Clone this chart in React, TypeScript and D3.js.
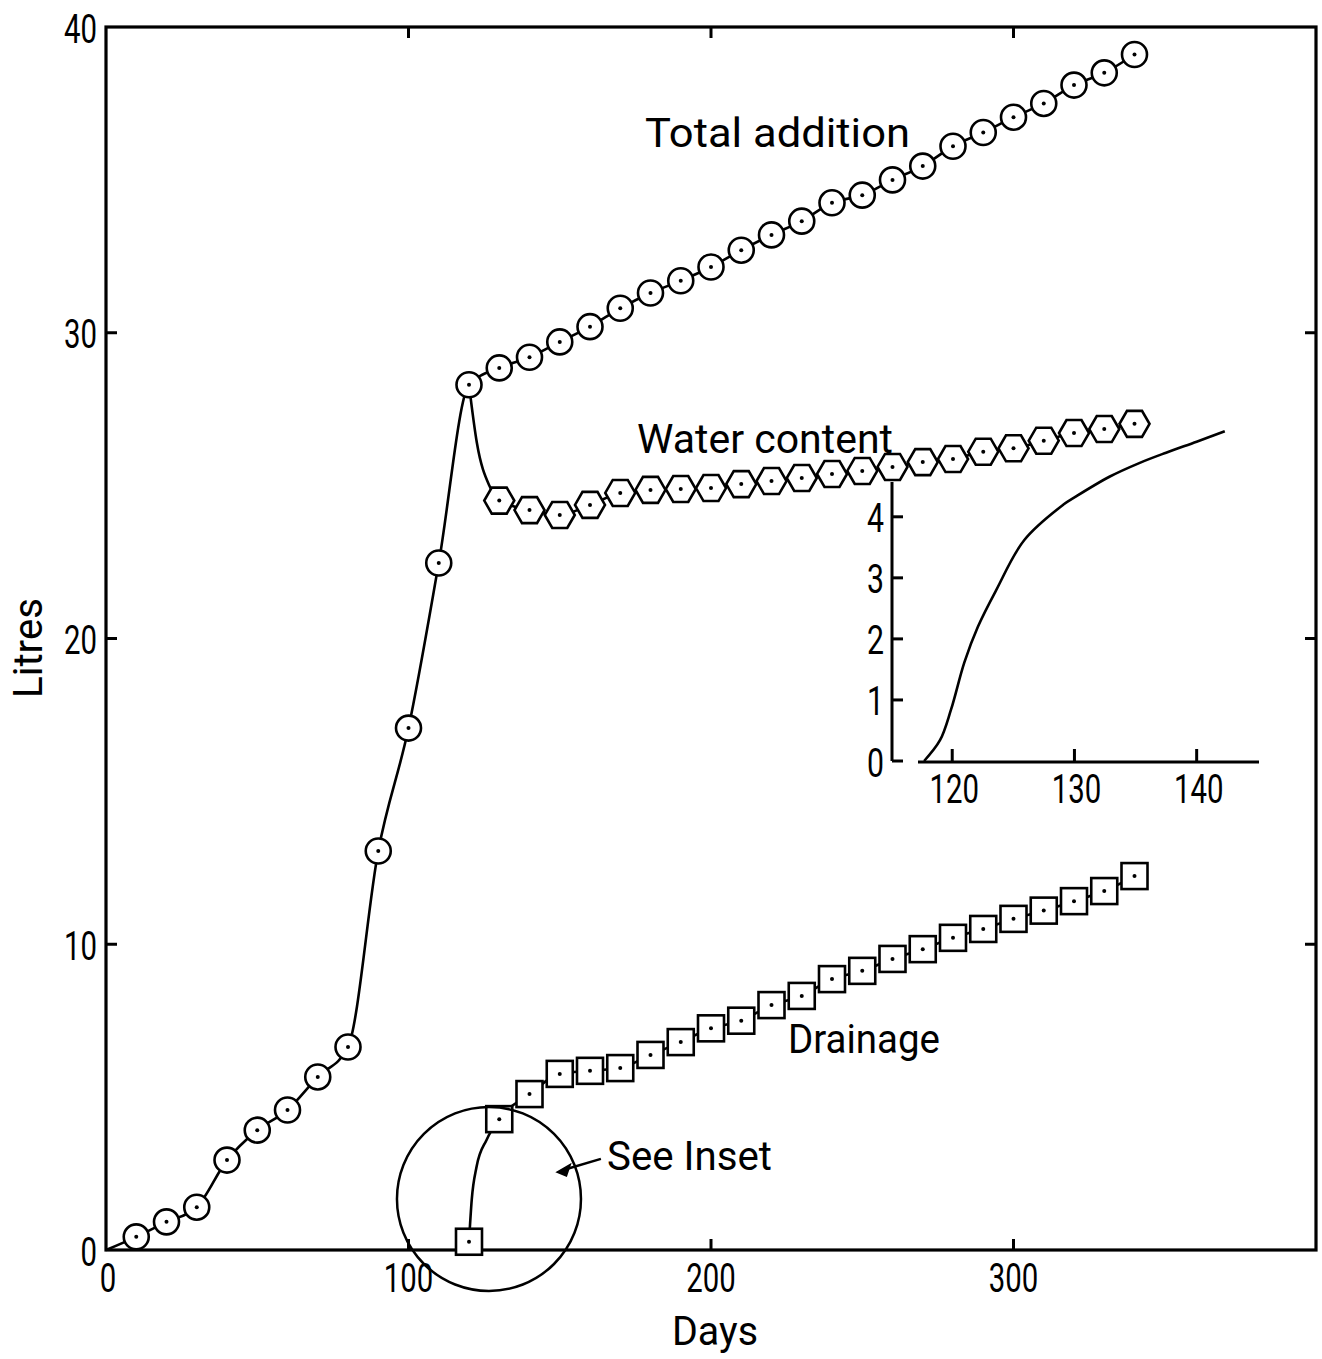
import React from 'react'
import * as d3 from 'd3'

// total addition (circles), litres vs days
const additionDays = [0, 10, 20, 30, 40, 50, 60, 70, 80, 90, 100, 110, 120, 130, 140, 150, 160, 170, 180, 190, 200, 210, 220, 230, 240, 250, 260, 270, 280, 290, 300, 310, 320, 330, 340]
const additionLitres = [0, 0.43, 0.92, 1.4, 2.94, 3.92, 4.58, 5.66, 6.64, 13.05, 17.07, 22.47, 28.3, 28.85, 29.2, 29.7, 30.2, 30.8, 31.3, 31.7, 32.15, 32.7, 33.2, 33.65, 34.25, 34.5, 35.0, 35.45, 36.1, 36.55, 37.05, 37.5, 38.1, 38.5, 39.1]

// water content (hexagons every 10 days), starts at the peak of total addition;
const waterDays = [120, 122.6, 126.9, 130, 140, 150, 160, 170, 180, 190, 200, 210, 220, 230, 240, 250, 260, 270, 280, 290, 300, 310, 320, 330, 340]
const waterLitres = [28.3, 26.4, 24.96, 24.51, 24.2, 24.04, 24.37, 24.76, 24.86, 24.89, 24.92, 25.05, 25.15, 25.25, 25.38, 25.48, 25.61, 25.77, 25.87, 26.11, 26.22, 26.47, 26.72, 26.85, 27.02]

// drainage (squares every 10 days), off-grid points
const drainDays = [120, 120.9, 122.5, 125.8, 130, 140, 150, 160, 170, 180, 190, 200, 210, 220, 230, 240, 250, 260, 270, 280, 290, 300, 310, 320, 330, 340]
const drainLitres = [0.27, 1.64, 2.72, 3.6, 4.28, 5.1, 5.76, 5.86, 5.95, 6.38, 6.8, 7.25, 7.5, 8.01, 8.31, 8.86, 9.13, 9.52, 9.84, 10.21, 10.5, 10.83, 11.1, 11.41, 11.74, 12.23]

// inset: early drainage
const insetDays = [117.7, 119, 119.9, 121, 122.1, 123.6, 125.9, 129.1, 130.1, 132.9, 135.3, 137.5, 140, 142.3]
const insetLitres = [0, 0.34, 0.84, 1.62, 2.2, 2.8, 3.62, 4.2, 4.33, 4.66, 4.88, 5.05, 5.23, 5.4]

const xTicks = [0, 100, 200, 300]
const yTicks = [0, 10, 20, 30, 40]
const insetXTicks = [120, 130, 140]
const insetYTicks = [0, 1, 2, 3, 4]

const FONT = 'Roboto, "DejaVu Sans", sans-serif'

const Label = ({ x, y, text, anchor = 'start', width, rotate = 0 }: any) => (
    <text
        x={x}
        y={y}
        textAnchor={anchor}
        fontFamily={FONT}
        fontWeight={400}
        fontSize={41}
        fill="#000"
        textLength={width}
        lengthAdjust="spacingAndGlyphs"
        transform={rotate ? `rotate(${rotate}, ${x}, ${y})` : undefined}
    >
        {text}
    </text>
)

const hexPath = (R: number, h: number) =>
    `M${R},0L${R / 2},${h}L${-R / 2},${h}L${-R},0L${-R / 2},${-h}L${R / 2},${-h}Z`

const onGrid = (d: [number, number]) => d[0] % 10 === 0

const App = () => {
    const width = 1322
    const height = 1359

    const x = d3.scaleLinear().domain([0, 400]).range([106, 1316])
    const y = d3.scaleLinear().domain([0, 40]).range([1250, 27])

    const xi = d3.scaleLinear().domain([117.2, 145.1]).range([918, 1259])
    const yi = d3.scaleLinear().domain([0, 4.57]).range([761, 482])
    const insetAxisX = 892

    const line = d3.line<[number, number]>()
        .x(d => x(d[0]))
        .y(d => y(d[1]))
        .curve(d3.curveMonotoneX)
    const insetLine = d3.line<[number, number]>()
        .x(d => xi(d[0]))
        .y(d => yi(d[1]))
        .curve(d3.curveCatmullRom)

    const addition = additionDays.map((d, i) => [d, additionLitres[i]] as [number, number])
    const water = waterDays.map((d, i) => [d, waterLitres[i]] as [number, number])
    const drain = drainDays.map((d, i) => [d, drainLitres[i]] as [number, number])
    const inset = insetDays.map((d, i) => [d, insetLitres[i]] as [number, number])

    const [x0, x1] = x.range()
    const [y0, y1] = y.range()
    const tick = 11
    const numW = (s: string) => s.length * 16.5

    return (
        <svg width={width} height={height} style={{ position: 'absolute', left: 0, top: 0, background: '#fff' }}>
            {/* frame */}
            <rect x={x0} y={y1} width={x1 - x0} height={y0 - y1} fill="none" stroke="#000" strokeWidth={3.2} />
            {xTicks.filter(t => t > 0).map(t => (
                <g key={'xt' + t} stroke="#000" strokeWidth={3}>
                    <line x1={x(t)} x2={x(t)} y1={y0} y2={y0 - tick} />
                    <line x1={x(t)} x2={x(t)} y1={y1} y2={y1 + tick} />
                </g>
            ))}
            {yTicks.filter(t => t > 0 && t < 40).map(t => (
                <g key={'yt' + t} stroke="#000" strokeWidth={3}>
                    <line x1={x0} x2={x0 + tick} y1={y(t)} y2={y(t)} />
                    <line x1={x1} x2={x1 - tick} y1={y(t)} y2={y(t)} />
                </g>
            ))}
            {xTicks.map(t => (
                <Label key={'xl' + t} x={x(t) + (t === 0 ? 2 : 0)} y={1292} text={String(t)} anchor="middle" width={numW(String(t))} />
            ))}
            {yTicks.map(t => (
                <Label key={'yl' + t} x={97} y={y(t) + 15.5} text={String(t)} anchor="end" width={numW(String(t))} />
            ))}
            <Label x={715} y={1345} text="Days" anchor="middle" width={86} />
            <Label x={42} y={648} text="Litres" anchor="middle" width={100} rotate={-90} />

            {/* series lines */}
            <path d={line(addition) || ''} fill="none" stroke="#000" strokeWidth={2.6} />
            <path d={line(water) || ''} fill="none" stroke="#000" strokeWidth={2.6} />
            <path d={line(drain) || ''} fill="none" stroke="#000" strokeWidth={2.6} />

            {/* inset */}
            <g stroke="#000" strokeWidth={3}>
                <line x1={insetAxisX} x2={insetAxisX} y1={yi(0)} y2={yi(4.57)} />
                <line x1={xi.range()[0]} x2={xi.range()[1]} y1={yi(0) + 1} y2={yi(0) + 1} />
                {insetYTicks.map(t => (
                    <line key={'iyt' + t} x1={insetAxisX} x2={insetAxisX + tick} y1={yi(t)} y2={yi(t)} />
                ))}
                {insetXTicks.map(t => (
                    <line key={'ixt' + t} x1={xi(t)} x2={xi(t)} y1={yi(0) + 1} y2={yi(0) - 12} />
                ))}
            </g>
            {insetXTicks.map(t => (
                <Label key={'ixl' + t} x={xi(t) + 2} y={803} text={String(t)} anchor="middle" width={numW(String(t))} />
            ))}
            {insetYTicks.map(t => (
                <Label key={'iyl' + t} x={884} y={yi(t) + 15.5} text={String(t)} anchor="end" width={17} />
            ))}
            <path d={insetLine(inset) || ''} fill="none" stroke="#000" strokeWidth={2.6} />

            {/* markers */}
            {addition.filter(d => d[0] > 0).map(d => (
                <g key={'a' + d[0]} transform={`translate(${x(d[0])},${y(d[1])})`}>
                    <circle r={12.5} fill="#fff" stroke="#000" strokeWidth={2.6} />
                    <circle r={2} fill="#000" />
                </g>
            ))}
            {water.filter(d => d[0] > 120 && onGrid(d)).map(d => (
                <g key={'w' + d[0]} transform={`translate(${x(d[0])},${y(d[1])})`}>
                    <path d={hexPath(15, 13)} fill="#fff" stroke="#000" strokeWidth={2.6} />
                    <circle r={2} fill="#000" />
                </g>
            ))}
            {drain.filter(onGrid).map(d => (
                <g key={'d' + d[0]} transform={`translate(${x(d[0])},${y(d[1])})`}>
                    <rect x={-13} y={-13} width={26} height={26} fill="#fff" stroke="#000" strokeWidth={2.6} />
                    <circle r={2} fill="#000" />
                </g>
            ))}

            {/* annotations */}
            <Label x={645} y={147} text="Total addition" width={265} />
            <Label x={637} y={453} text="Water content" width={256} />
            <Label x={788} y={1053} text="Drainage" width={152} />
            <Label x={607} y={1170} text="See Inset" width={165} />
            <circle cx={x(126.6)} cy={y(1.67)} r={92} fill="none" stroke="#000" strokeWidth={2.5} />
            <line x1={x(163.6)} y1={y(2.98)} x2={x(152)} y2={y(2.64)} stroke="#000" strokeWidth={2.5} />
            <path
                d={`M${x(149.1)},${y(2.55)}L${x(153.5)},${y(2.8)}L${x(152.2)},${y(2.42)}Z`}
                fill="#000"
                stroke="#000"
                strokeWidth={1.5}
            />
        </svg>
    )
}

export default App
